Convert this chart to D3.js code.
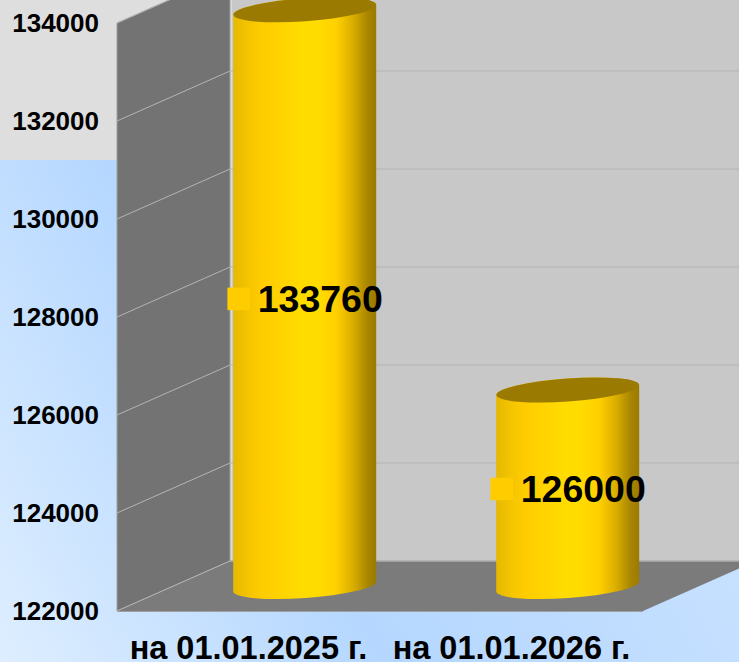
<!DOCTYPE html>
<meta charset="utf-8">
<style>
html, body { margin: 0; padding: 0; overflow: hidden; }
svg { display: block; }
text { font-family: "Liberation Sans", Arial, sans-serif; font-weight: bold; fill: #000; }
.axis path, .axis line { display: none; }
</style>
<body>
<script src="https://d3js.org/d3.v7.min.js"></script>
<script>
    let categories = ["на 01.01.2025 г.", "на 01.01.2026 г."];
    let values = [133760, 126000];
    let yTicks = [122000, 124000, 126000, 128000, 130000, 132000, 134000];

    let width = 739, height = 662;
    // how far the back wall sits from the front of the 3d box
    let depthX = 113, depthY = 50;

    let x = d3.scaleBand().domain(categories).range([117, 643]);
    let y = d3.scaleLinear().domain([122000, 134000]).range([611, 23]);

    let svg = d3.select("body").append("svg")
        .attr("width", width)
        .attr("height", height);

    let defs = svg.append("defs");

    // diagonal blue: light in the bottom left corner, darkest in the middle
    let bg = defs.append("linearGradient").attr("id", "bg")
        .attr("gradientUnits", "userSpaceOnUse")
        .attr("x1", 0).attr("y1", 662).attr("x2", 596).attr("y2", 327);
    bg.append("stop").attr("offset", 0).attr("stop-color", "#deeeff");
    bg.append("stop").attr("offset", 0.49).attr("stop-color", "#b5d7ff");
    bg.append("stop").attr("offset", 1).attr("stop-color", "#c6e0ff");

    let barFill = defs.append("linearGradient").attr("id", "barFill")
        .attr("x1", 0).attr("x2", 1).attr("y1", 0).attr("y2", 0);
    [[0, "#e6b800"], [0.11, "#f5c500"], [0.2, "#ffcc00"], [0.49, "#ffdc00"], [0.58, "#ffdc00"],
     [0.72, "#ffd000"], [0.84, "#d9ad00"], [0.94, "#a88600"], [1, "#9a7a00"]].forEach(function (s) {
        barFill.append("stop").attr("offset", s[0]).attr("stop-color", s[1]);
    });

    // page background, grey at the top, blue below
    svg.append("rect").attr("width", width).attr("height", height).attr("fill", "url(#bg)");
    svg.append("rect").attr("width", width).attr("height", 160).attr("fill", "#dedede");

    let x0 = x.range()[0], x1 = x.range()[1];
    let yBottom = y.range()[0], yTop = y.range()[1];

    // back wall
    svg.append("rect")
        .attr("x", x0 + depthX).attr("y", yTop - depthY)
        .attr("width", x1 - x0).attr("height", yBottom - yTop)
        .attr("fill", "#c8c8c8");
    // strip at the corner
    svg.append("rect")
        .attr("x", x0 + depthX).attr("y", yTop - depthY)
        .attr("width", 2).attr("height", yBottom - yTop)
        .attr("fill", "#dcdcdc");

    // left wall
    svg.append("path")
        .attr("d", d3.line()([[x0, yTop], [x0 + depthX, yTop - depthY], [x0 + depthX, yBottom - depthY], [x0, yBottom]]) + "Z")
        .attr("fill", "#737373")
        .attr("stroke", "#a0a0a0")
        .attr("stroke-width", 1);

    // floor
    svg.append("path")
        .attr("d", d3.line()([[x0, yBottom], [x0 + depthX, yBottom - depthY], [x1 + depthX, yBottom - depthY], [x1, yBottom]]) + "Z")
        .attr("fill", "#7b7b7b");
    svg.append("line")
        .attr("x1", x0).attr("x2", x1).attr("y1", yBottom + 0.5).attr("y2", yBottom + 0.5)
        .attr("stroke", "#a0a0a0");
    svg.append("line")
        .attr("x1", x0 + depthX).attr("x2", x1 + depthX)
        .attr("y1", yBottom - depthY).attr("y2", yBottom - depthY)
        .attr("stroke", "#a0a0a0");

    // gridlines on both walls
    let grid = svg.append("g").selectAll("g").data(yTicks).enter().append("g")
        .attr("fill", "none")
        .attr("stroke", "#b4b4b4")
        .attr("stroke-width", 1);
    grid.append("path")
        .attr("d", function (d) {
            return d3.line()([[x0, y(d)], [x0 + depthX, y(d) - depthY], [x1 + depthX, y(d) - depthY]]);
        });

    // cylinders stand in the middle of the depth
    let rx = 71.5, ry = 11.5, tilt = -4;
    let midX = function (d) { return x(d) + x.bandwidth() / 2 + depthX / 2 - 0.3; };
    let rise = rx * Math.sin(-tilt * Math.PI / 180);
    let baseY = y(y.domain()[0]) - depthY / 2 + 0.5;

    let bars = svg.append("g").selectAll("g").data(categories).enter().append("g");

    bars.append("path")
        .attr("fill", "url(#barFill)")
        .attr("d", function (d, i) {
            let cx = midX(d), top = y(values[i]) - depthY / 2;
            return "M" + (cx - rx) + "," + (top + rise) +
                "L" + (cx - rx) + "," + (baseY + rise) +
                "A" + rx + "," + ry + " " + tilt + " 0 0 " + (cx + rx) + "," + (baseY - rise) +
                "L" + (cx + rx) + "," + (top - rise) +
                "A" + rx + "," + ry + " " + tilt + " 0 0 " + (cx - rx) + "," + (top + rise) + "Z";
        });

    bars.append("ellipse")
        .attr("rx", rx).attr("ry", ry)
        .attr("fill", "#9a7a00")
        .attr("transform", function (d, i) {
            return "translate(" + midX(d) + "," + (y(values[i]) - depthY / 2) + ") rotate(" + tilt + ")";
        });

    // value labels with their legend key
    let midY = function (i) { return (y(values[i]) - depthY / 2 + baseY) / 2; };
    bars.append("rect")
        .attr("x", function (d) { return midX(d) - 77.3; })
        .attr("y", function (d, i) { return midY(i) - 10.5; })
        .attr("width", 22.5).attr("height", 22.5)
        .attr("fill", "#ffcc00");
    bars.append("text")
        .attr("x", function (d) { return midX(d) - 47; })
        .attr("y", function (d, i) { return midY(i) + 0.5; })
        .attr("dy", "0.35em")
        .style("font-size", "37.5px")
        .text(function (d, i) { return values[i]; });

    // axes
    svg.append("g").attr("class", "axis")
        .attr("transform", "translate(" + x0 + ",0)")
        .call(d3.axisLeft(y).tickValues(yTicks).tickSize(0).tickPadding(18).tickFormat(d3.format("d")))
        .selectAll("text")
        .style("font-size", "26px");

    svg.append("g").attr("class", "axis")
        .attr("transform", "translate(0," + yBottom + ")")
        .call(d3.axisBottom(x).tickSize(0).tickPadding(25))
        .selectAll("text")
        .style("font-size", "32.5px");
</script>
</body>
